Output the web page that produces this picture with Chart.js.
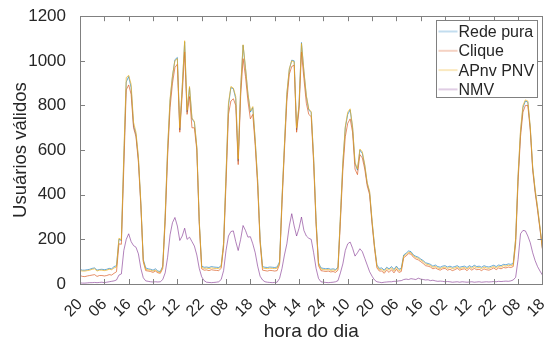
<!DOCTYPE html>
<html>
<head>
<meta charset="utf-8">
<script src="https://cdn.jsdelivr.net/npm/chart.js@4.4.1/dist/chart.umd.min.js"></script>
<style>
  html, body { margin: 0; padding: 0; background: #fff; }
  #wrap { width: 559px; height: 343px; position: relative; }
</style>
</head>
<body>
<div id="wrap"><canvas id="usersChart"></canvas></div>
<script>
  // tick labels every 10 hours (hora do dia)
  const hourLabels = ['20','06','16','02','12','22','08','18','04','14','24','10','20','06','16','02','12','22','08','18'];
  const seriesNames = ['Rede pura', 'Clique', 'APnv PNV', 'NMV'];

  // hourly values, one per hour (191 samples)
  const redePura = [
    65, 62, 62, 64, 66, 70, 72, 62, 65, 66, 64, 66, 70, 68, 78, 82,
    200, 195, 560, 905, 930, 880, 710, 670, 560, 360, 110, 72,
    68, 66, 62, 68, 58, 56,
    80, 300, 600, 820, 930, 1005, 1015, 690, 880, 1085, 770, 880, 740, 725, 610, 280, 80,
    75, 76, 74, 78, 76, 75, 74, 82, 180, 480,
    800, 880, 875, 830, 550, 870, 1070, 965, 850, 770, 790, 640, 460, 200, 78,
    75, 74, 76, 75, 74, 76,
    100, 380, 620, 850, 960, 1003, 1000, 690, 800, 1082, 950, 840, 780, 768, 560, 280, 95, 72,
    70, 68, 70, 66, 68, 65, 75,
    300, 540, 700, 760, 780, 700, 540, 510, 600, 585, 530, 450, 410, 280, 170, 85, 70,
    72, 62, 75, 68, 78, 65, 80, 66, 70,
    130, 138, 148, 145, 130, 124, 120, 112, 105, 95, 92, 88, 80, 85, 78, 75,
    80, 82, 76, 80, 75, 78, 82, 75, 78, 80, 74, 82, 76, 84, 78, 80, 75, 82, 78, 76, 80, 84, 78, 85, 82, 88, 86, 90, 88, 92,
    200, 480, 680, 790, 820, 815, 700, 520, 420, 340, 250, 160
  ];
  const clique = [
    38, 34, 33, 36, 38, 40, 42, 34, 38, 38, 36, 38, 42, 40, 48, 55,
    180, 178, 520, 870, 892, 850, 700, 660, 545, 350, 100, 60,
    58, 56, 52, 58, 50, 48,
    70, 280, 570, 790, 900, 970, 985, 680, 850, 1040, 760, 840, 700, 700, 600, 270, 68,
    62, 63, 60, 64, 62, 61, 60, 70, 165, 450,
    760, 820, 830, 800, 535, 840, 1010, 930, 820, 740, 760, 620, 440, 185, 62,
    60, 58, 61, 60, 58, 60,
    88, 360, 600, 820, 940, 975, 980, 680, 780, 1040, 920, 810, 760, 750, 540, 265, 82, 60,
    58, 56, 58, 54, 56, 52, 62,
    280, 510, 660, 720, 740, 680, 515, 490, 580, 565, 515, 440, 400, 270, 160, 72, 58,
    58, 48, 62, 52, 64, 50, 66, 52, 56,
    118, 126, 136, 134, 120, 112, 108, 100, 92, 82, 80, 76, 68, 72, 66, 62,
    68, 70, 62, 66, 60, 64, 70, 62, 66, 68, 60, 70, 62, 70, 64, 66, 60, 68, 64, 62, 66, 72, 64, 72, 68, 74, 72, 76, 74, 78,
    180, 460, 660, 770, 800, 800, 690, 510, 410, 330, 245, 155
  ];
  const apnvPnv = [
    60, 58, 58, 60, 62, 66, 68, 58, 62, 62, 60, 62, 66, 64, 72, 76,
    205, 198, 580, 925, 935, 895, 725, 680, 570, 365, 105, 66,
    63, 62, 58, 62, 54, 52,
    76, 310, 610, 830, 935, 1000, 1010, 700, 885, 1090, 780, 885, 745, 728, 615, 285, 74,
    70, 71, 69, 72, 70, 70, 69, 78, 185, 490,
    810, 885, 878, 840, 560, 880, 1072, 970, 855, 775, 795, 645, 465, 195, 72,
    70, 69, 71, 70, 69, 71,
    95, 385, 625, 855, 965, 1000, 995, 700, 805, 1078, 955, 845, 785, 772, 565, 285, 90, 67,
    65, 63, 65, 61, 63, 60, 70,
    305, 545, 705, 770, 785, 705, 545, 515, 605, 592, 535, 455, 415, 285, 172, 80, 64,
    66, 56, 70, 62, 72, 59, 74, 60, 64,
    125, 133, 142, 140, 126, 119, 115, 107, 100, 90, 87, 83, 75, 79, 72, 69,
    74, 76, 70, 74, 69, 72, 76, 69, 72, 74, 68, 76, 70, 78, 72, 74, 69, 76, 72, 70, 74, 78, 72, 79, 76, 82, 80, 84, 82, 86,
    205, 490, 690, 800, 825, 820, 705, 525, 425, 345, 255, 162
  ];
  const nmv = [
    5, 4, 4, 5, 6, 6, 7, 6, 7, 8, 6, 8, 10, 12, 14, 18,
    40, 45, 150, 200, 225, 190, 172, 165, 135, 70, 28, 14,
    12, 10, 9, 10, 9, 10,
    20, 50, 120, 220, 275, 298, 260, 195, 215, 250, 200, 210, 190, 170, 130, 70, 32,
    15, 8, 7, 6, 7, 8, 10, 20, 60, 150,
    215, 235, 238, 190, 150, 200, 262, 240, 210, 212, 180, 140, 80, 35, 18,
    10, 8, 7, 6, 7, 8,
    25, 70, 130, 180, 260, 315, 260, 215, 250, 300, 240, 215, 205, 200, 140, 70, 25, 10,
    8, 7, 6, 7, 8, 10, 15,
    50, 90, 150, 180, 188, 160, 125, 140, 158, 145, 115, 85, 55, 35, 18, 10, 8,
    6, 8, 9, 10, 10, 12, 12, 14, 15,
    20, 22, 20, 24, 22, 20, 26, 22, 20, 18, 19, 15, 17, 14, 12, 13,
    12, 10, 11, 10, 8, 9, 10, 8, 10, 9, 8, 9, 10, 8, 9, 10, 8, 9, 10, 9, 10, 11, 10, 12, 11, 12, 13, 12, 14, 18,
    30, 110, 225, 240, 238, 215, 185, 140, 105, 78, 58, 40
  ];

  const FONT = "'Liberation Sans', Arial, Helvetica, sans-serif";
  const TXT = '#262626';
  const AXIS = '#808080';

  const toPoints = arr => arr.map((v, i) => ({ x: i, y: v }));

  // MATLAB style box with inward ticks
  const boxAxesPlugin = {
    id: 'boxAxes',
    afterDraw(chart) {
      const { ctx, chartArea: a, scales } = chart;
      ctx.save();
      ctx.strokeStyle = AXIS;
      ctx.lineWidth = 1;
      ctx.strokeRect(Math.round(a.left) + 0.5, Math.round(a.top) + 0.5,
                     Math.round(a.right - a.left), Math.round(a.bottom - a.top));
      ctx.beginPath();
      scales.x.ticks.forEach(t => {
        const px = Math.round(scales.x.getPixelForValue(t.value)) + 0.5;
        ctx.moveTo(px, a.bottom); ctx.lineTo(px, a.bottom - 5);
        ctx.moveTo(px, a.top); ctx.lineTo(px, a.top + 5);
      });
      scales.y.ticks.forEach(t => {
        const py = Math.round(scales.y.getPixelForValue(t.value)) + 0.5;
        ctx.moveTo(a.left, py); ctx.lineTo(a.left + 5, py);
        ctx.moveTo(a.right, py); ctx.lineTo(a.right - 5, py);
      });
      ctx.stroke();
      ctx.restore();
    }
  };

  // legend box inside the top-right corner
  const legendBoxPlugin = {
    id: 'legendBox',
    afterDraw(chart) {
      const { ctx, chartArea: a } = chart;
      const w = 101, rowH = 19.3;
      const x0 = Math.round(a.right - 5 - w) + 0.5, y0 = Math.round(a.top + 4) + 0.5;
      const h = 77;
      ctx.save();
      ctx.fillStyle = '#fff';
      ctx.fillRect(x0, y0, w, h);
      ctx.strokeStyle = AXIS;
      ctx.lineWidth = 1;
      ctx.strokeRect(x0, y0, w, h);
      ctx.font = '16px ' + FONT;
      ctx.textBaseline = 'middle';
      chart.data.datasets.forEach((ds, i) => {
        const cy = y0 + 11 + i * rowH;
        ctx.globalAlpha = 0.4;
        ctx.strokeStyle = ds.borderColor;
        ctx.lineWidth = 2;
        ctx.beginPath();
        ctx.moveTo(x0 + 2, cy); ctx.lineTo(x0 + 21, cy);
        ctx.stroke();
        ctx.globalAlpha = 1;
        ctx.fillStyle = TXT;
        ctx.fillText(ds.label, x0 + 22, cy + 1);
      });
      ctx.restore();
    }
  };

  new Chart(document.getElementById('usersChart'), {
    type: 'line',
    data: {
      datasets: [
        { label: seriesNames[0], data: toPoints(redePura), borderColor: 'rgba(0,114,189,0.6)', order: 3 },
        { label: seriesNames[1], data: toPoints(clique), borderColor: 'rgba(217,83,25,0.65)', order: 2 },
        { label: seriesNames[2], data: toPoints(apnvPnv), borderColor: 'rgba(237,177,32,0.7)', order: 1 },
        { label: seriesNames[3], data: toPoints(nmv), borderColor: 'rgba(126,47,142,0.6)', order: 0 }
      ]
    },
    options: {
      responsive: true,
      maintainAspectRatio: false,
      animation: false,
      layout: { padding: { top: 14, right: 13, left: 0, bottom: 0 } },
      elements: {
        line: { borderWidth: 1, tension: 0 },
        point: { radius: 0 }
      },
      scales: {
        x: {
          type: 'linear',
          min: 0,
          max: 190,
          grid: { display: false },
          border: { display: false },
          afterFit: s => { s.height = 59; },
          ticks: {
            stepSize: 10,
            autoSkip: false,
            maxRotation: 45,
            minRotation: 45,
            padding: 3,
            color: TXT,
            font: { family: FONT, size: 16 },
            callback: v => hourLabels[Math.round(v / 10)]
          },
          title: {
            display: true,
            text: 'hora do dia',
            color: TXT,
            font: { family: FONT, size: 19 },
            padding: { top: 0, bottom: 0 }
          }
        },
        y: {
          min: 0,
          max: 1200,
          grid: { display: false },
          border: { display: false },
          afterFit: s => { s.width = 80; },
          ticks: {
            stepSize: 200,
            padding: 6,
            color: TXT,
            font: { family: FONT, size: 17 },
            callback: v => String(v)
          },
          title: {
            display: true,
            text: 'Usuários válidos',
            color: TXT,
            font: { family: FONT, size: 18.5 },
            padding: { top: 10, bottom: 0 }
          }
        }
      },
      plugins: {
        legend: { display: false },
        tooltip: { enabled: false }
      }
    },
    plugins: [boxAxesPlugin, legendBoxPlugin]
  });
</script>
</body>
</html>
